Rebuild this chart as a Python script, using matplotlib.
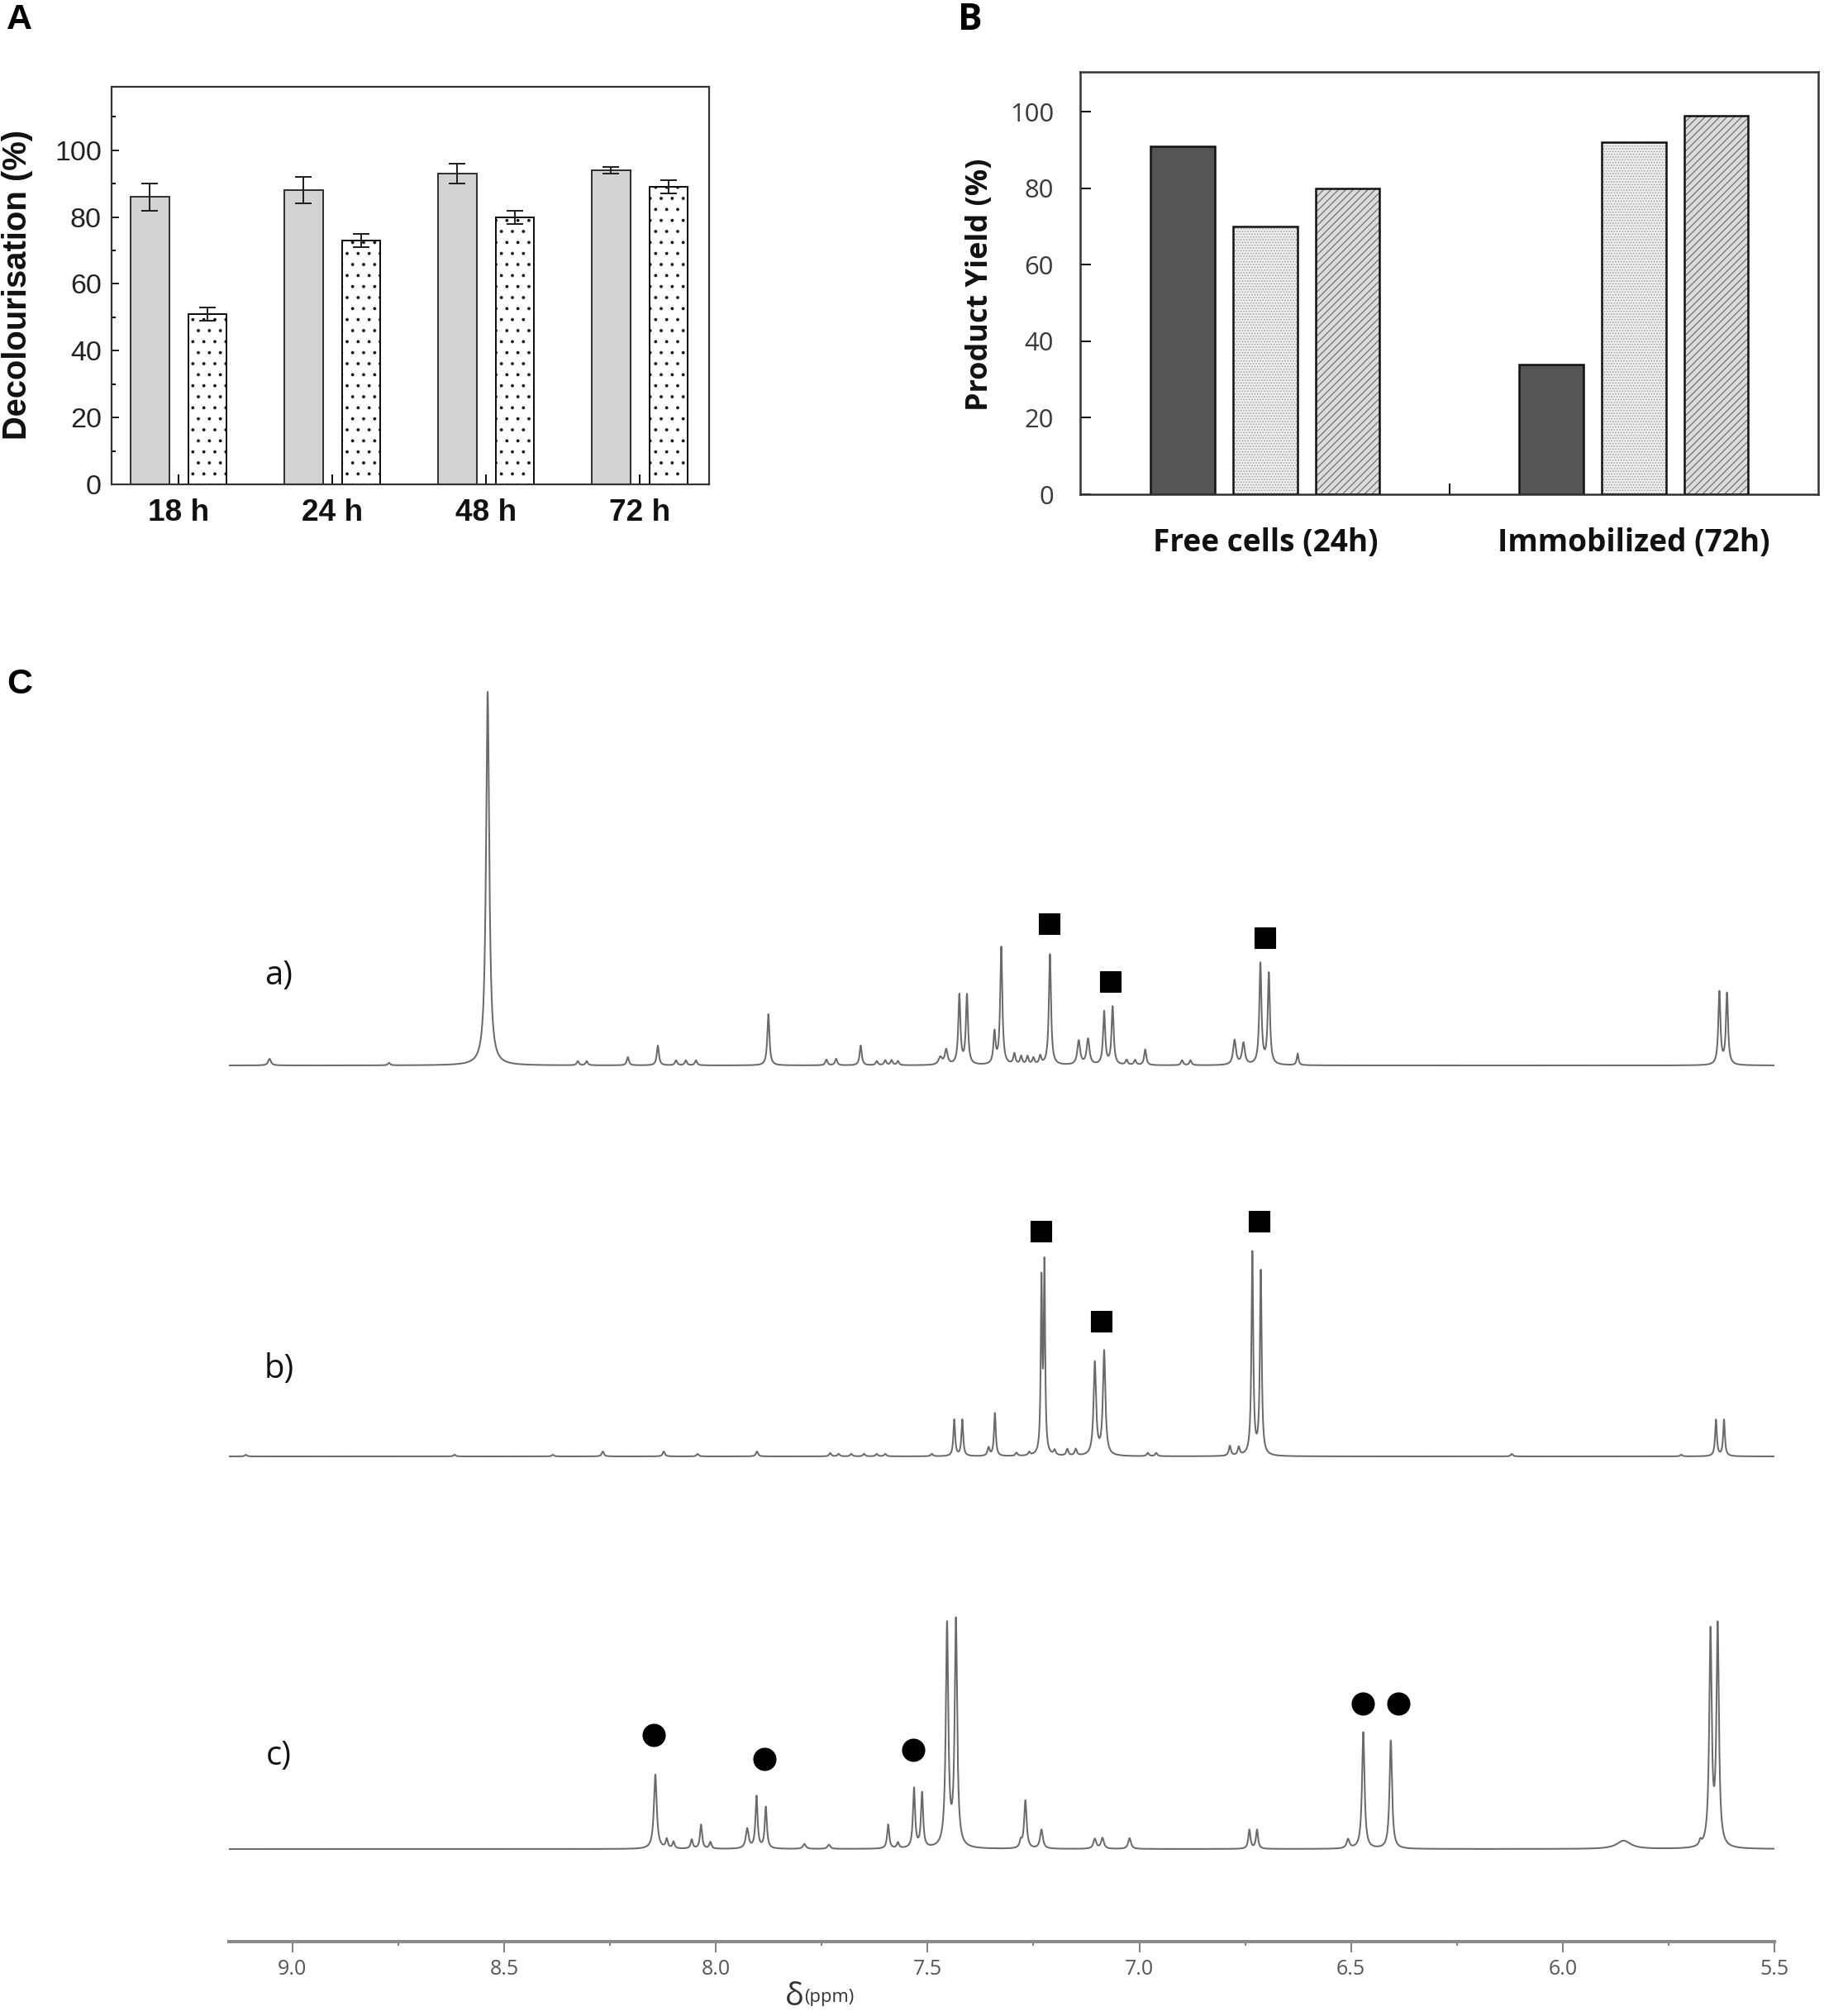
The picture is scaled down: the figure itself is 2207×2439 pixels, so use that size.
import numpy as np
import matplotlib
matplotlib.use('Agg')
import matplotlib.pyplot as plt
from matplotlib.ticker import MultipleLocator, FixedLocator

DPI = 80
W, H = 2207, 2439


def pt(px):
    return px * 72.0 / DPI


# ---------------- data: panel A ----------------
time_labels = ['18 h', '24 h', '48 h', '72 h']
decol_gray = [86, 88, 93, 94]
decol_gray_err = [4, 4, 3, 1]
decol_dot = [51, 73, 80, 89]
decol_dot_err = [2, 2, 2, 2]

# ---------------- data: panel B ----------------
group_labels = ['Free cells (24h)', 'Immobilized (72h)']
yield_dark = [91, 34]
yield_dotted = [70, 92]
yield_hatched = [80, 99]

# ---------------- data: panel C (1H NMR peak lists) ----------------
ppm_ticks = [9.0, 8.5, 8.0, 7.5, 7.0, 6.5, 6.0, 5.5]
ppm_tick_labels = ['9.0', '8.5', '8.0', '7.5', '7.0', '6.5', '6.0', '5.5']
trace_labels = ['a)', 'b)', 'c)']
trace_offsets = [1060, 587, 112]

peaks_a_ppm = [9.054, 8.772, 8.539, 8.326, 8.305, 8.208, 8.137, 8.094, 8.071, 8.047,
               7.876, 7.739, 7.716, 7.658, 7.620, 7.600, 7.585, 7.570, 7.470, 7.456,
               7.425, 7.407, 7.342, 7.326, 7.295, 7.279, 7.264, 7.250, 7.234, 7.211,
               7.143, 7.121, 7.083, 7.063, 7.030, 7.010, 6.986, 6.899, 6.879, 6.775,
               6.754, 6.714, 6.694, 6.626, 5.630, 5.612]
peaks_a_h = [8, 3, 452, 5, 5, 10, 24, 6, 6, 6,
             62, 7, 8, 24, 5, 6, 6, 5, 9, 18,
             84, 84, 38, 142, 13, 10, 10, 8, 10, 134,
             29, 31, 64, 70, 6, 6, 19, 6, 6, 30,
             26, 122, 110, 14, 88, 86]
peaks_a_w = [0.004, 0.003, 0.0045, 0.003, 0.003, 0.003, 0.003, 0.003, 0.003, 0.003,
             0.003, 0.003, 0.003, 0.003, 0.003, 0.003, 0.003, 0.003, 0.005, 0.004,
             0.003, 0.003, 0.003, 0.003, 0.003, 0.003, 0.003, 0.003, 0.003, 0.003,
             0.004, 0.004, 0.003, 0.003, 0.003, 0.003, 0.003, 0.003, 0.003, 0.004,
             0.004, 0.003, 0.003, 0.0025, 0.003, 0.003]

peaks_b_ppm = [9.110, 8.617, 8.385, 8.267, 8.123, 8.043, 7.903, 7.730, 7.710, 7.680,
               7.650, 7.620, 7.600, 7.490, 7.437, 7.418, 7.356, 7.341, 7.290, 7.260,
               7.231, 7.224, 7.200, 7.170, 7.150, 7.105, 7.083, 6.980, 6.960, 6.786,
               6.765, 6.733, 6.713, 6.120, 5.720, 5.638, 5.619]
peaks_b_h = [2, 2, 2, 6, 6, 3, 6, 4, 3, 3,
             3, 3, 3, 3, 44, 44, 10, 52, 4, 4,
             205, 225, 6, 8, 8, 112, 126, 4, 4, 12,
             10, 245, 222, 3, 2, 44, 44]
peaks_b_w = [0.003, 0.003, 0.003, 0.003, 0.003, 0.003, 0.003, 0.003, 0.003, 0.003,
             0.003, 0.003, 0.003, 0.003, 0.0025, 0.0025, 0.003, 0.0025, 0.003, 0.003,
             0.002, 0.002, 0.003, 0.003, 0.003, 0.0035, 0.0035, 0.003, 0.003, 0.003,
             0.003, 0.0025, 0.0025, 0.003, 0.003, 0.0025, 0.0025]

peaks_c_ppm = [8.143, 8.116, 8.100, 8.057, 8.035, 8.013, 7.926, 7.904, 7.882, 7.791,
               7.733, 7.593, 7.570, 7.532, 7.513, 7.454, 7.433, 7.280, 7.269, 7.231,
               7.105, 7.087, 7.023, 6.740, 6.722, 6.507, 6.471, 6.406, 5.856, 5.675,
               5.651, 5.634]
peaks_c_h = [90, 11, 8, 11, 29, 8, 24, 63, 50, 6,
             5, 29, 7, 72, 66, 268, 273, 8, 58, 23,
             12, 13, 13, 23, 23, 11, 141, 131, 10, 6,
             258, 265]
peaks_c_w = [0.004, 0.003, 0.003, 0.003, 0.003, 0.003, 0.004, 0.003, 0.003, 0.004,
             0.004, 0.003, 0.003, 0.003, 0.003, 0.0035, 0.0035, 0.003, 0.0035, 0.004,
             0.004, 0.004, 0.004, 0.003, 0.003, 0.004, 0.0035, 0.0035, 0.02, 0.003,
             0.0035, 0.0035]

# annotation symbols (ppm, height above the trace baseline)
square_a_ppm = [7.213, 7.070, 6.704]
square_a_h = [172, 102, 155]
square_b_ppm = [7.233, 7.091, 6.718]
square_b_h = [273, 164, 285]
circle_c_ppm = [8.146, 7.886, 7.534, 6.473, 6.389]
circle_c_h = [138, 109, 120, 176, 176]

# ---------------- figure ----------------
plt.rcParams['font.family'] = ['Liberation Sans', 'DejaVu Sans']
plt.rcParams['hatch.linewidth'] = 1.0
fig = plt.figure(figsize=(W / DPI, H / DPI), dpi=DPI)

# ===== Panel A =====
axA = fig.add_axes([135 / W, 1 - 586 / H, 723 / W, 481 / H])
xa = np.arange(1, len(time_labels) + 1)
off, bwA = 0.187, 0.25
ekw = dict(elinewidth=pt(2), capthick=pt(2), ecolor='#222222')
axA.bar(xa - off, decol_gray, bwA, color='#d3d3d3', edgecolor='#333333', linewidth=pt(2),
        yerr=decol_gray_err, capsize=pt(10), error_kw=ekw, zorder=2)
axA.bar(xa + off, decol_dot, bwA, color='white', edgecolor='#111111', hatch='.',
        linewidth=pt(2), yerr=decol_dot_err, capsize=pt(10), error_kw=ekw, zorder=2)
axA.set_xlim(0.564, 4.451)
axA.set_ylim(0, 119)
axA.set_yticks([0, 20, 40, 60, 80, 100])
axA.yaxis.set_minor_locator(FixedLocator([10, 30, 50, 70, 90, 110]))
axA.set_xticks(xa)
axA.set_xticklabels(time_labels, fontweight='bold', fontsize=pt(37))
axA.tick_params(axis='y', which='major', direction='in', length=pt(9), width=pt(2),
                labelsize=pt(34), pad=pt(12), colors='#222222', right=False)
axA.tick_params(axis='y', which='minor', direction='in', length=pt(5), width=pt(2),
                right=False)
axA.tick_params(axis='x', which='major', direction='in', length=pt(12), width=pt(2),
                pad=pt(17), colors='#111111', top=False)
for s in axA.spines.values():
    s.set_linewidth(pt(2.2))
    s.set_color('#333333')
fig.text(21 / W, 1 - 345 / H, 'Decolourisation (%)', rotation=90, ha='center',
         va='center', fontweight='bold', fontsize=pt(40), color='#111111')

# ===== Panel B =====
axB = fig.add_axes([1307 / W, 1 - 598 / H, 893 / W, 511 / H])
g = np.arange(len(group_labels))
sp, bwB = 0.224, 0.173
axB.bar(g - sp, yield_dark, bwB, color='#555555', edgecolor='#111111', linewidth=pt(2.5), zorder=2)
axB.bar(g, yield_dotted, bwB, color='#f0f0f0', edgecolor='#a0a0a0', hatch='....', linewidth=0, zorder=2)
axB.bar(g, yield_dotted, bwB, fill=False, edgecolor='#111111', linewidth=pt(2.5), zorder=3)
axB.bar(g + sp, yield_hatched, bwB, color='#dcdcdc', edgecolor='#666666', hatch='///', linewidth=0, zorder=2)
axB.bar(g + sp, yield_hatched, bwB, fill=False, edgecolor='#111111', linewidth=pt(2.5), zorder=3)
axB.set_xlim(-0.502, 1.5)
axB.set_ylim(0, 110.4)
axB.set_yticks([0, 20, 40, 60, 80, 100])
axB.set_yticklabels(['0', '20', '40', '60', '80', '100'], family=['Open Sans', 'DejaVu Sans'],
                    fontsize=pt(31), color='#3a3a3a')
axB.set_xticks(g)
axB.set_xticklabels(group_labels, family=['Open Sans', 'DejaVu Sans'], fontweight='bold',
                    fontsize=pt(37), color='#111111')
axB.xaxis.set_minor_locator(FixedLocator([0.5]))
axB.tick_params(axis='y', direction='in', length=pt(13), width=pt(2), pad=pt(32), right=False)
axB.tick_params(axis='x', which='major', length=0, pad=pt(40))
axB.tick_params(axis='x', which='minor', direction='in', length=pt(13), width=pt(2))
for s in axB.spines.values():
    s.set_linewidth(pt(2.5))
    s.set_color('#333333')
fig.text(1186 / W, 1 - 344 / H, 'Product Yield (%)', rotation=90, ha='center', va='center',
         fontweight='bold', fontsize=pt(36), family=['Open Sans', 'DejaVu Sans'], color='#111111')

# ===== Panel C =====
axC = fig.add_axes([277 / W, 1 - 2349 / H, 1870 / W, 1549 / H])
ppm = np.linspace(9.15, 5.5, 60000)


def spectrum(centers, heights, widths):
    y = np.zeros_like(ppm)
    for c, h, w in zip(centers, heights, widths):
        y += h / (1.0 + ((ppm - c) / w) ** 2)
    return y


traces = [(peaks_a_ppm, peaks_a_h, peaks_a_w),
          (peaks_b_ppm, peaks_b_h, peaks_b_w),
          (peaks_c_ppm, peaks_c_h, peaks_c_w)]
for (c, h, w), base in zip(traces, trace_offsets):
    axC.plot(ppm, base + spectrum(c, h, w), color='#6a6a6a', linewidth=pt(2.0))

axC.plot(square_a_ppm, np.array(square_a_h) + trace_offsets[0], 's', ms=pt(25), color='black')
axC.plot(square_b_ppm, np.array(square_b_h) + trace_offsets[1], 's', ms=pt(25), color='black')
axC.plot(circle_c_ppm, np.array(circle_c_h) + trace_offsets[2], 'o', ms=pt(27), color='black')

for lab, base, ly in zip(trace_labels, trace_offsets, [108, 105, 112]):
    axC.text(9.032, base + ly, lab, ha='center', va='center', fontsize=pt(40),
             family=['Open Sans', 'DejaVu Sans'], color='#111111')

axC.set_xlim(9.15, 5.5)
axC.set_ylim(0, 1549)
axC.set_xticks(ppm_ticks)
axC.set_xticklabels(ppm_tick_labels, family=['Open Sans', 'DejaVu Sans'], fontsize=pt(25),
                    color='#555555')
axC.xaxis.set_minor_locator(MultipleLocator(0.25))
axC.tick_params(axis='x', which='major', direction='out', length=pt(13), width=pt(1.5),
                color='#555555', pad=pt(8))
axC.tick_params(axis='x', which='minor', direction='out', length=pt(5), width=pt(1.5),
                color='#555555')
axC.set_yticks([])
for k in ['left', 'right', 'top']:
    axC.spines[k].set_visible(False)
axC.spines['bottom'].set_color('#8a8a8a')
axC.spines['bottom'].set_linewidth(pt(4))
axC.patch.set_alpha(0)

fig.text(973 / W, 1 - 2426 / H, '\u03b4', ha='right', va='baseline', fontsize=pt(38),
         family=['Open Sans', 'DejaVu Sans'], color='#333333')
fig.text(973 / W, 1 - 2422 / H, '(ppm)', ha='left', va='baseline', fontsize=pt(22),
         family=['Open Sans', 'DejaVu Sans'], color='#333333')

# panel letters
fig.text(8 / W, 1 - 4 / H, 'A', ha='left', va='top', fontweight='bold', fontsize=pt(43))
fig.text(1159 / W, 1 - 2 / H, 'B', ha='left', va='top', fontweight='bold', fontsize=pt(44),
         family=['Open Sans', 'DejaVu Sans'])
fig.text(8 / W, 1 - 808 / H, 'C', ha='left', va='top', fontweight='bold', fontsize=pt(43))

fig.savefig('out.png', dpi=DPI)
